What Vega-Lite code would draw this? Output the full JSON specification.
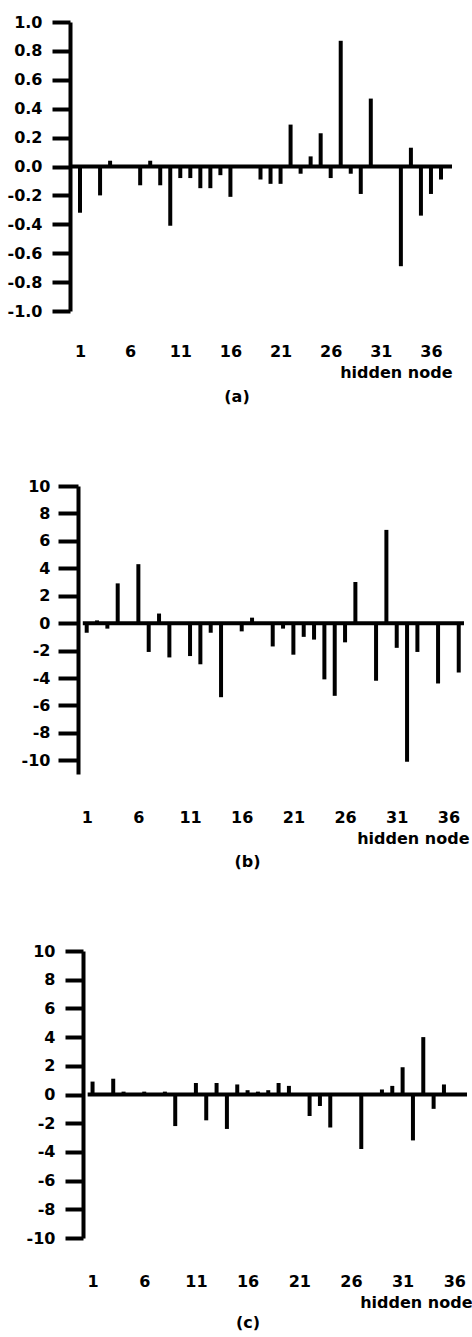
{
  "$schema": "https://vega.github.io/schema/vega-lite/v6.json",
  "background": "white",
  "padding": {"left": 0, "top": 14, "right": 0, "bottom": 0},
  "autosize": {"type": "pad"},
  "spacing": 73,
  "config": {
    "view": {"stroke": null},
    "font": "DejaVu Sans",
    "axis": {
      "labelFont": "DejaVu Sans",
      "labelFontSize": 16,
      "labelFontWeight": "bold",
      "labelColor": "black",
      "labelOverlap": false,
      "titleFont": "DejaVu Sans",
      "titleFontSize": 16,
      "titleFontWeight": "bold",
      "titleColor": "black",
      "grid": false
    },
    "axisX": {
      "domain": false,
      "ticks": false,
      "tickSize": 0,
      "labelFlush": false,
      "labelOverlap": false,
      "labelDx": 3,
      "titleAnchor": "end",
      "titlePadding": 5
    },
    "axisY": {
      "domain": true,
      "domainWidth": 4,
      "domainColor": "black",
      "ticks": true,
      "tickWidth": 4,
      "tickColor": "black",
      "labelOverlap": false,
      "title": null
    },
    "title": {"font": "DejaVu Sans", "fontSize": 16, "fontWeight": "bold", "color": "black"}
  },
  "datasets": {
    "a": [
      {"node": 1, "value": -0.32}, {"node": 2, "value": 0}, {"node": 3, "value": -0.2}, {"node": 4, "value": 0.04},
      {"node": 5, "value": 0}, {"node": 6, "value": 0}, {"node": 7, "value": -0.13}, {"node": 8, "value": 0.04},
      {"node": 9, "value": -0.13}, {"node": 10, "value": -0.41}, {"node": 11, "value": -0.08}, {"node": 12, "value": -0.08},
      {"node": 13, "value": -0.15}, {"node": 14, "value": -0.15}, {"node": 15, "value": -0.06}, {"node": 16, "value": -0.21},
      {"node": 17, "value": 0}, {"node": 18, "value": 0}, {"node": 19, "value": -0.09}, {"node": 20, "value": -0.12},
      {"node": 21, "value": -0.12}, {"node": 22, "value": 0.29}, {"node": 23, "value": -0.05}, {"node": 24, "value": 0.07},
      {"node": 25, "value": 0.23}, {"node": 26, "value": -0.08}, {"node": 27, "value": 0.87}, {"node": 28, "value": -0.05},
      {"node": 29, "value": -0.19}, {"node": 30, "value": 0.47}, {"node": 31, "value": 0}, {"node": 32, "value": 0},
      {"node": 33, "value": -0.69}, {"node": 34, "value": 0.13}, {"node": 35, "value": -0.34}, {"node": 36, "value": -0.19},
      {"node": 37, "value": -0.09}
    ],
    "b": [
      {"node": 1, "value": -0.7}, {"node": 2, "value": 0.2}, {"node": 3, "value": -0.4}, {"node": 4, "value": 2.9},
      {"node": 5, "value": 0}, {"node": 6, "value": 4.3}, {"node": 7, "value": -2.1}, {"node": 8, "value": 0.7},
      {"node": 9, "value": -2.5}, {"node": 10, "value": 0}, {"node": 11, "value": -2.4}, {"node": 12, "value": -3.0},
      {"node": 13, "value": -0.7}, {"node": 14, "value": -5.4}, {"node": 15, "value": 0}, {"node": 16, "value": -0.6},
      {"node": 17, "value": 0.4}, {"node": 18, "value": 0}, {"node": 19, "value": -1.7}, {"node": 20, "value": -0.4},
      {"node": 21, "value": -2.3}, {"node": 22, "value": -1.0}, {"node": 23, "value": -1.2}, {"node": 24, "value": -4.1},
      {"node": 25, "value": -5.3}, {"node": 26, "value": -1.4}, {"node": 27, "value": 3.0}, {"node": 28, "value": 0},
      {"node": 29, "value": -4.2}, {"node": 30, "value": 6.8}, {"node": 31, "value": -1.8}, {"node": 32, "value": -10.1},
      {"node": 33, "value": -2.1}, {"node": 34, "value": 0}, {"node": 35, "value": -4.4}, {"node": 36, "value": 0},
      {"node": 37, "value": -3.6}
    ],
    "c": [
      {"node": 1, "value": 0.9}, {"node": 2, "value": 0}, {"node": 3, "value": 1.1}, {"node": 4, "value": 0.2},
      {"node": 5, "value": 0}, {"node": 6, "value": 0.2}, {"node": 7, "value": 0}, {"node": 8, "value": 0.2},
      {"node": 9, "value": -2.2}, {"node": 10, "value": -0.1}, {"node": 11, "value": 0.8}, {"node": 12, "value": -1.8},
      {"node": 13, "value": 0.8}, {"node": 14, "value": -2.4}, {"node": 15, "value": 0.7}, {"node": 16, "value": 0.3},
      {"node": 17, "value": 0.2}, {"node": 18, "value": 0.3}, {"node": 19, "value": 0.8}, {"node": 20, "value": 0.6},
      {"node": 21, "value": 0}, {"node": 22, "value": -1.5}, {"node": 23, "value": -0.8}, {"node": 24, "value": -2.3},
      {"node": 25, "value": 0}, {"node": 26, "value": 0}, {"node": 27, "value": -3.8}, {"node": 28, "value": 0},
      {"node": 29, "value": 0.35}, {"node": 30, "value": 0.6}, {"node": 31, "value": 1.9}, {"node": 32, "value": -3.2},
      {"node": 33, "value": 4.0}, {"node": 34, "value": -1.0}, {"node": 35, "value": 0.7}, {"node": 36, "value": 0},
      {"node": 37, "value": 0}
    ]
  },
  "vconcat": [
    {
      "width": 382,
      "height": 289,
      "title": {"text": "(a)", "orient": "bottom", "anchor": "middle", "frame": "group", "dx": -24, "offset": 9},
      "layer": [
        {
          "data": {"name": "a"},
          "mark": {"type": "bar", "size": 4, "color": "black"},
          "encoding": {
            "x": {
              "field": "node", "type": "quantitative",
              "scale": {"domain": [0.5, 37.6], "nice": false, "zero": false},
              "axis": {"values": [1, 6, 11, 16, 21, 26, 31, 36], "tickCount": 40, "labelPadding": 32, "labelOverlap": false, "title": "hidden node"}
            },
            "y": {
              "field": "value", "type": "quantitative",
              "scale": {"domain": [-1, 1], "nice": false, "zero": false},
              "axis": {
                "values": [-1, -0.8, -0.6, -0.4, -0.2, 0, 0.2, 0.4, 0.6, 0.8, 1],
                "tickCount": 40,
                "labelExpr": "datum.value < 0 ? '-' + format(-datum.value, '.1f') : format(datum.value, '.1f')",
                "labelOverlap": false,
                "tickSize": 18, "labelPadding": 10, "minExtent": 70
              }
            },
            "y2": {"datum": 0}
          }
        },
        {
          "data": {"values": [{}]},
          "mark": {"type": "rule", "color": "black", "strokeWidth": 4},
          "encoding": {"y": {"datum": 0}}
        }
      ]
    },
    {
      "width": 399,
      "height": 288,
      "title": {"text": "(b)", "orient": "bottom", "anchor": "middle", "frame": "group", "dx": -22, "offset": 8},
      "layer": [
        {
          "data": {"name": "b"},
          "mark": {"type": "bar", "size": 4, "color": "black"},
          "encoding": {
            "x": {
              "field": "node", "type": "quantitative",
              "scale": {"domain": [-0.132, 37.51], "nice": false, "zero": false},
              "axis": {"values": [1, 6, 11, 16, 21, 26, 31, 36], "tickCount": 40, "labelPadding": 35, "labelOverlap": false, "title": "hidden node"}
            },
            "y": {
              "field": "value", "type": "quantitative",
              "scale": {"domain": [-11, 10], "nice": false, "zero": false},
              "axis": {
                "values": [-10, -8, -6, -4, -2, 0, 2, 4, 6, 8, 10],
                "tickCount": 40,
                "labelExpr": "'' + datum.value",
                "labelOverlap": false,
                "offset": -8,
                "tickSize": 20, "labelPadding": 8, "minExtent": 0
              }
            },
            "y2": {"datum": 0}
          }
        },
        {
          "data": {"values": [{}]},
          "mark": {"type": "rule", "color": "black", "strokeWidth": 4},
          "encoding": {"x": {"datum": 0.623}, "x2": {"datum": 37.51}, "y": {"datum": 0}}
        }
      ]
    },
    {
      "width": 402,
      "height": 287,
      "title": {"text": "(c)", "orient": "bottom", "anchor": "middle", "frame": "group", "dx": -23, "offset": 5},
      "layer": [
        {
          "data": {"name": "c"},
          "mark": {"type": "bar", "size": 4, "color": "black"},
          "encoding": {
            "x": {
              "field": "node", "type": "quantitative",
              "scale": {"domain": [-0.698, 37.23], "nice": false, "zero": false},
              "axis": {"values": [1, 6, 11, 16, 21, 26, 31, 36], "tickCount": 40, "labelPadding": 35, "labelOverlap": false, "title": "hidden node"}
            },
            "y": {
              "field": "value", "type": "quantitative",
              "scale": {"domain": [-10, 10], "nice": false, "zero": false},
              "axis": {
                "values": [-10, -8, -6, -4, -2, 0, 2, 4, 6, 8, 10],
                "tickCount": 40,
                "labelExpr": "'' + datum.value",
                "labelOverlap": false,
                "offset": -13,
                "tickSize": 18, "labelPadding": 10, "minExtent": 0
              }
            },
            "y2": {"datum": 0}
          }
        },
        {
          "data": {"values": [{}]},
          "mark": {"type": "rule", "color": "black", "strokeWidth": 4},
          "encoding": {"x": {"datum": 0.528}, "x2": {"datum": 37.23}, "y": {"datum": 0}}
        }
      ]
    }
  ]
}
